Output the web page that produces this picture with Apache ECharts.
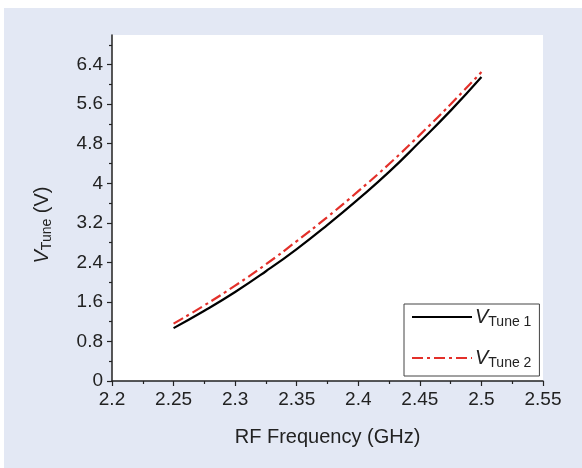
<!DOCTYPE html>
<html>
<head>
<meta charset="utf-8">
<script src="https://cdn.jsdelivr.net/npm/echarts@6/dist/echarts.min.js"></script>
<style>
  body { margin: 0; background: #fff; }
  #wrap { position: relative; width: 582px; height: 468px; background: #fff; }
  #bg { position: absolute; left: 4px; top: 8px; right: 0; bottom: 0; background: #e3e8f4; }
  #main { position: absolute; left: 0; top: 0; width: 582px; height: 468px; }
</style>
</head>
<body>
<div id="wrap">
  <div id="bg"></div>
  <div id="main"></div>
</div>
<script>
// RF frequency (GHz)
const freq = [2.25, 2.275, 2.3, 2.325, 2.35, 2.375, 2.4, 2.425, 2.45, 2.475, 2.5];
// tuning voltages (V)
const vTune1 = [1.07, 1.42, 1.80, 2.22, 2.67, 3.16, 3.68, 4.23, 4.84, 5.47, 6.15];
const vTune2 = [1.16, 1.53, 1.93, 2.36, 2.83, 3.32, 3.84, 4.39, 4.98, 5.60, 6.25];
const yTicks = [0, 0.8, 1.6, 2.4, 3.2, 4, 4.8, 5.6, 6.4];
const seriesNames = ['VTune 1', 'VTune 2'];

const txt = '#222';
const font = 'Liberation Sans, Arial, sans-serif';

const chart = echarts.init(document.getElementById('main'));

const pairs = arr => freq.map((f, i) => [f, arr[i]]);

const option = {
  backgroundColor: 'transparent',
  animation: false,
  textStyle: { fontFamily: font },
  grid: {
    left: 112,
    right: 39,
    top: 35,
    bottom: 87,
    show: true,
    backgroundColor: '#fff',
    borderWidth: 0
  },
  legend: {
    orient: 'vertical',
    left: 404,
    top: 304,
    width: 137,
    padding: [3, 8, 6, 7],
    itemGap: 19,
    itemWidth: 60,
    itemHeight: 14,
    backgroundColor: '#fff',
    borderColor: '#444',
    borderWidth: 1,
    borderRadius: 0,
    itemStyle: { opacity: 0 },
    data: seriesNames,
    formatter: name => '{i|V}{s|' + name.slice(1) + '}',
    textStyle: {
      padding: [0, 0, 0, -2],
      rich: {
        i: { fontStyle: 'italic', fontSize: 20, color: txt, fontFamily: font },
        s: { fontSize: 14, color: txt, fontFamily: font, padding: [10, 0, 0, 0] }
      }
    }
  },
  xAxis: {
    type: 'value',
    min: 2.2,
    max: 2.55,
    interval: 0.05,
    name: 'RF Frequency (GHz)',
    nameLocation: 'middle',
    nameGap: 46,
    nameTextStyle: { fontSize: 20, color: txt, fontFamily: font },
    axisLine: { onZero: false, lineStyle: { color: txt, width: 1.5 } },
    axisTick: { inside: false, length: 5, lineStyle: { color: txt, width: 1.2 } },
    minorTick: { show: true, splitNumber: 2, length: 3, lineStyle: { color: txt, width: 1.2 } },
    splitLine: { show: false },
    axisLabel: {
      fontSize: 19,
      color: txt,
      margin: 9,
      formatter: v => String(+v.toFixed(2))
    }
  },
  yAxis: {
    type: 'value',
    min: 0,
    max: 7,
    interval: 0.8,
    name: '{i|V}{s|Tune} (V)',
    nameLocation: 'middle',
    nameGap: 58,
    nameTextStyle: {
      fontSize: 20,
      color: txt,
      fontFamily: font,
      padding: [0, 34, 0, 0],
      rich: {
        i: { fontStyle: 'italic', fontSize: 20, color: txt, fontFamily: font },
        s: { fontSize: 14, color: txt, fontFamily: font, padding: [10, 0, 0, 0] }
      }
    },
    axisLine: { onZero: false, lineStyle: { color: txt, width: 1.5 } },
    axisTick: { inside: false, length: 5, customValues: yTicks, lineStyle: { color: txt, width: 1.2 } },
    minorTick: { show: true, splitNumber: 2, length: 3, lineStyle: { color: txt, width: 1.2 } },
    splitLine: { show: false },
    axisLabel: {
      fontSize: 19,
      color: txt,
      margin: 9,
      customValues: yTicks,
      formatter: v => String(+v.toFixed(1))
    }
  },
  series: [
    {
      name: seriesNames[0],
      type: 'line',
      smooth: true,
      symbol: 'none',
      data: pairs(vTune1),
      lineStyle: { color: '#000', width: 2.2 },
      itemStyle: { color: '#000' },
      z: 3
    },
    {
      name: seriesNames[1],
      type: 'line',
      smooth: true,
      symbol: 'none',
      data: pairs(vTune2),
      lineStyle: { color: '#e3302a', width: 2.2, type: [11, 4, 3, 4] },
      itemStyle: { color: '#e3302a' },
      z: 4
    }
  ]
};

chart.setOption(option);
</script>
</body>
</html>
